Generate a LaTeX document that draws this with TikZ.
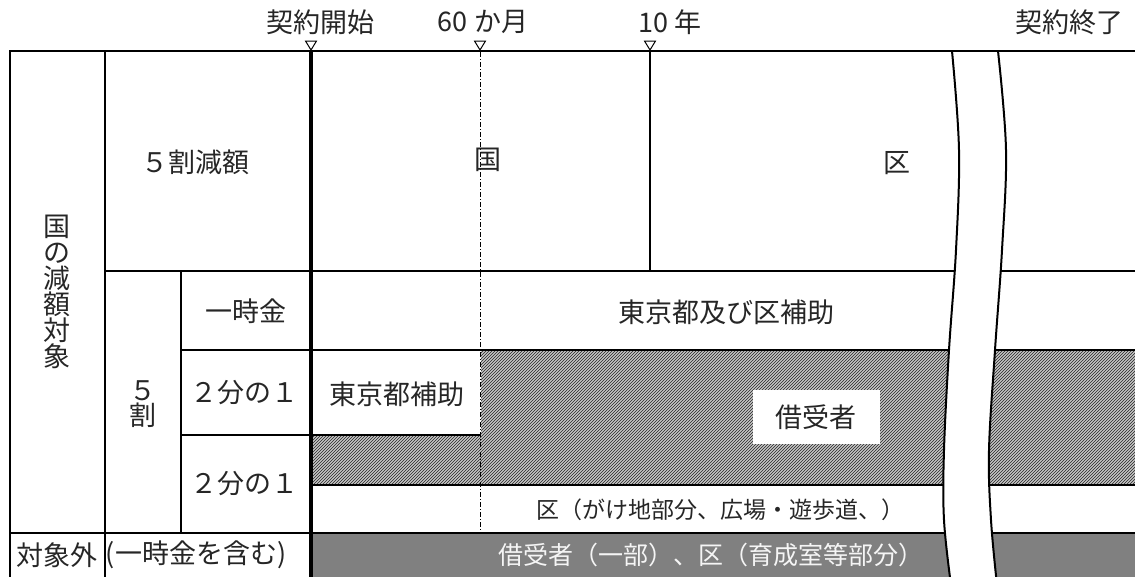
\documentclass[tikz,border=0pt]{standalone}
\usepackage{fontspec}
\newfontfamily\jp{Noto Sans CJK JP}
\usetikzlibrary{patterns}
\begin{document}
\begin{tikzpicture}[x=1pt,y=-1pt,
  ln/.style={line width=2pt},
  thickln/.style={line width=4pt},
  dashln/.style={line width=0.8pt, dash pattern=on 5pt off 2pt on 1pt off 2pt},
  lbl/.style={font=\jp\fontsize{27}{27}\selectfont, inner sep=0pt, text=black!85},
  smlbl/.style={font=\jp\fontsize{23}{23}\selectfont, inner sep=0pt, text=black!85},
  greylbl/.style={font=\jp\fontsize{25}{25}\selectfont, inner sep=0pt, text=white!92!gray},
  hatchfill/.style={preaction={fill=gray!45}, pattern=north east lines, pattern color=black!85},
  marker/.style={draw, fill=white, line width=1pt, line join=miter}
]
\useasboundingbox (0,0) rectangle (1135,576);
\clip (0,0) rectangle (1135,576);

% fills
\fill[white] (0,0) rectangle (1135,576);
\path[hatchfill] (481,350) rectangle (1140,485);
\path[hatchfill] (311,435) rectangle (481,485);
\fill[gray] (311,533) rectangle (1140,580);

% dashed 60-month line
\draw[dashln] (480,52) -- (480,533);

% grid lines
\draw[ln] (10,51) -- (10,580);
\draw[ln] (105,51) -- (105,580);
\draw[ln] (181,271) -- (181,533);
\draw[ln] (650,51) -- (650,271);
\draw[ln] (105,271) -- (1140,271);
\draw[ln] (181,350) -- (1140,350);
\draw[ln] (181,435) -- (481,435);
\draw[ln] (311,485) -- (1140,485);
\draw[ln] (10,533) -- (1140,533);
\draw[thickln] (311,51) -- (311,580);

% white box for borrower
\node[fill=white, minimum width=127pt, minimum height=54pt, inner sep=0pt] (boxb) at (816,417) {};

% break band
\fill[white] plot[smooth, tension=0.6] coordinates {(952,51) (959,150) (956,250) (949,350) (944,450) (944,520) (951,585)}
  -- plot[smooth, tension=0.6] coordinates {(997,585) (991,520) (989,450) (995,350) (1002,250) (1006,150) (998,51)} -- cycle;
\draw[ln] plot[smooth, tension=0.6] coordinates {(952,51) (959,150) (956,250) (949,350) (944,450) (944,520) (951,585)};
\draw[ln] plot[smooth, tension=0.6] coordinates {(998,51) (1006,150) (1002,250) (995,350) (989,450) (991,520) (997,585)};

% top line
\draw[ln] (9,51) -- (1140,51);

% markers
\draw[marker] (305.5,41) -- (316.5,41) -- (311,50) -- cycle;
\draw[marker] (474.5,41) -- (485.5,41) -- (480,50) -- cycle;
\draw[marker] (644.5,41) -- (655.5,41) -- (650,50) -- cycle;

% top labels
\node[lbl] (tstart) at (320,22) {契約開始};
\node[lbl] (t60) at (483,22) {60 か月};
\node[lbl] (t10) at (670,22) {10 年};
\node[lbl] (tend) at (1069,22) {契約終了};

% left table labels
\node[lbl] (half) at (195,162) {５割減額};
\node[lbl, align=center, font=\jp\fontsize{27}{26}\selectfont] (kuni) at (57,292) {国\\の\\減\\額\\対\\象};
\node[lbl] (ichiji) at (246,311) {一時金};
\node[lbl] (nibun1) at (244,393) {２分の１};
\node[lbl, align=center, font=\jp\fontsize{27}{25}\selectfont] (gowari) at (143,404) {５\\割};
\node[lbl] (nibun2) at (244,484) {２分の１};
\node[lbl] (taisho) at (57,555) {対象外};
\node[lbl] (fukumu) at (196,555) {(一時金を含む)};

% right labels
\node[lbl] (lkuni) at (488,160) {国};
\node[lbl] (lku) at (897,163) {区};
\node[lbl] (tokyoku) at (726,312) {東京都及び区補助};
\node[lbl] (tokyo) at (397,394) {東京都補助};
\node[lbl] (shakuju) at (boxb.center) {借受者};
\node[smlbl] (gake) at (720,510) {区（がけ地部分、広場・遊歩道、）};
\node[greylbl] (ichibu) at (711,555) {借受者（一部）、区（育成室等部分）};
\end{tikzpicture}
\end{document}
